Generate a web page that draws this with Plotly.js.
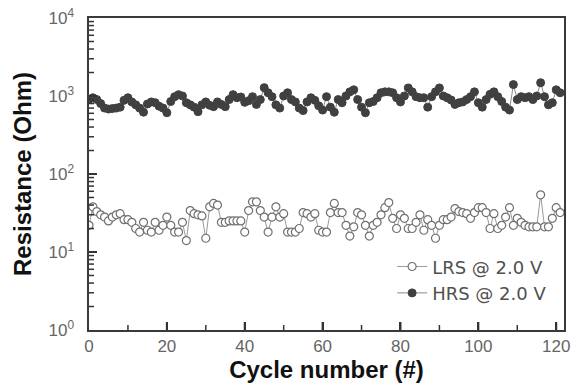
<!DOCTYPE html>
<html>
<head>
<meta charset="utf-8">
<script src="https://cdn.plot.ly/plotly-3.0.1.min.js"></script>
<style>html,body{margin:0;padding:0;background:#fff;}#chart{width:577px;height:387px;}</style>
</head>
<body>
<div id="chart"></div>
<script>
var cycles = [];
for (var i = 0; i <= 121; i++) cycles.push(i);

var lrs = [22,38,33,30,28,25,28,30,31,26,26,24,20,18,24,19,18,24,19,22,
           28,22,18,18,24,14,34,31,30,29,15,38,42,40,24,24,25,25,25,25,
           18,34,44,44,34,28,18,28,38,28,31,18,18,18,20,32,31,28,31,19,
           18,18,32,42,32,32,22,16,21,32,30,22,16,22,24,30,37,43,27,20,
           30,27,20,20,24,30,19,26,22,15,22,26,26,28,36,33,32,31,27,32,
           37,37,32,20,31,20,22,28,37,22,27,24,22,21,21,21,54,21,21,27,
           37,32];

var hrs = [900,950,900,800,700,680,690,700,720,880,950,840,770,700,620,790,840,820,740,700,
           610,850,980,1040,1000,820,770,720,630,770,840,760,730,840,780,730,900,1040,950,970,
           830,870,980,780,900,1280,1100,980,770,700,1000,1100,900,840,700,650,840,950,880,750,
           660,980,720,620,900,820,1000,1130,1200,900,720,610,820,850,950,1100,1130,1130,1100,950,
           840,1000,1270,1130,980,950,950,720,980,1130,1270,1000,950,890,780,820,840,900,980,1130,
           820,720,900,1050,1130,980,850,720,660,1400,900,980,950,980,900,1000,1480,980,770,820,
           1200,1100];

var xTicks = [0,20,40,60,80,100,120];
var xMinorTicks = [10,30,50,70,90,110];
var yTickVals = [1,10,100,1000,10000];
var yTickText = ['10<sup>0</sup>\u00a0\u00a0','10<sup>1</sup>\u00a0\u00a0','10<sup>2</sup>\u00a0\u00a0','10<sup>3</sup>\u00a0\u00a0','10<sup>4</sup>\u00a0\u00a0'];
var yMinorMantissa = [2,3,4,5,6,7,8,9];
var yMinorTicks = [];
[1,10,100,1000].forEach(function (d) {
  yMinorMantissa.forEach(function (m) { yMinorTicks.push(m * d); });
});

var FONT = 'Arial, Liberation Sans, sans-serif';
var XRANGE = [0, 122];
var YRANGE = [0, 4];
var W = 577, H = 387, ML = 89, MR = 13, MT = 18, MB = 57;
var PW = W - ML - MR, PH = H - MT - MB;

var tickShapes = [];
function xFrac(v) { return (v - XRANGE[0]) / (XRANGE[1] - XRANGE[0]); }
function yFrac(v) { return (Math.log10(v) - YRANGE[0]) / (YRANGE[1] - YRANGE[0]); }
function addX(v, len, w) {
  tickShapes.push({type: 'line', xref: 'paper', yref: 'paper', layer: 'above',
    x0: xFrac(v), x1: xFrac(v), y0: 0, y1: len / PH,
    line: {color: '#333333', width: w}});
}
function addY(v, len, w) {
  tickShapes.push({type: 'line', xref: 'paper', yref: 'paper', layer: 'above',
    x0: 0, x1: len / PW, y0: yFrac(v), y1: yFrac(v),
    line: {color: '#333333', width: w}});
}
xTicks.forEach(function (v) { if (v > XRANGE[0]) addX(v, 8, 2); });
xMinorTicks.forEach(function (v) { addX(v, 5, 1.5); });
yTickVals.forEach(function (v) { if (v > 1 && v < 10000) addY(v, 8, 2); });
yMinorTicks.forEach(function (v) { addY(v, 5, 1.5); });

var traces = [
  {
    x: cycles, y: lrs, name: 'LRS @ 2.0 V', type: 'scatter', mode: 'lines+markers',
    line: {color: '#9a9a9a', width: 1},
    marker: {symbol: 'circle', size: 8, color: '#ffffff', line: {color: '#707070', width: 1.2}}
  },
  {
    x: cycles, y: hrs, name: 'HRS @ 2.0 V', type: 'scatter', mode: 'lines+markers',
    line: {color: '#8a8a8a', width: 1},
    marker: {symbol: 'circle', size: 8, color: '#404040', line: {color: '#404040', width: 1}}
  }
];

var layout = {
  width: W, height: H,
  margin: {l: ML, r: MR, t: MT, b: MB},
  paper_bgcolor: '#ffffff', plot_bgcolor: '#ffffff',
  showlegend: true,
  shapes: tickShapes,
  legend: {
    x: 0.975, y: 0.06, xanchor: 'right', yanchor: 'bottom',
    bgcolor: 'rgba(0,0,0,0)', borderwidth: 0,
    font: {family: 'DejaVu Sans, sans-serif', size: 18, color: '#505050'},
    tracegroupgap: 0
  },
  xaxis: {
    range: XRANGE, tickmode: 'array', tickvals: xTicks, ticktext: xTicks.map(String),
    ticks: 'inside', ticklen: 8, tickwidth: 2, tickcolor: '#333333',
    showline: true, linecolor: '#3a3a3a', linewidth: 2, mirror: true,
    showgrid: false, zeroline: false,
    tickfont: {family: FONT, size: 17, color: '#666666'},
    title: {text: '<b>Cycle number (#)</b>', standoff: 0,
            font: {family: FONT, size: 24, color: '#111'}}
  },
  yaxis: {
    type: 'log', range: YRANGE,
    tickmode: 'array', tickvals: yTickVals, ticktext: yTickText,
    ticks: 'inside', ticklen: 8, tickwidth: 2, tickcolor: '#333333',
    showline: true, linecolor: '#3a3a3a', linewidth: 2, mirror: true,
    showgrid: false, zeroline: false,
    tickfont: {family: FONT, size: 17, color: '#666666'},
    title: {text: '<b>Resistance (Ohm)</b>', standoff: 10,
            font: {family: FONT, size: 24, color: '#111'}}
  }
};

Plotly.newPlot('chart', traces, layout, {displayModeBar: false, staticPlot: true});
</script>
</body>
</html>
